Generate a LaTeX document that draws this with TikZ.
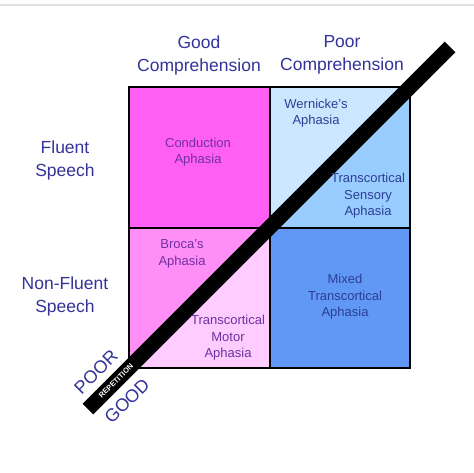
\documentclass[tikz,border=0pt]{standalone}
\usepackage{fontspec}
\setmainfont{Liberation Sans}
\begin{document}
\begin{tikzpicture}[x=1pt,y=-1pt,
  hdr/.style={text=navyT, font=\fontsize{17.5}{23}\selectfont, align=center, inner sep=0pt},
  celltxt/.style={font=\fontsize{13}{16.5}\selectfont, align=center, inner sep=0pt},
  axis/.style={text=navyT, font=\fontsize{18}{20}\selectfont, rotate=45, inner sep=0pt},
  gridline/.style={draw=black, line width=2pt}]
\definecolor{navyT}{HTML}{333399}
\definecolor{purpT}{HTML}{7030A0}
\definecolor{blueT}{HTML}{2B3F95}
\definecolor{cond}{HTML}{FF5FF5}
\definecolor{broca}{HTML}{FF8FF7}
\definecolor{motor}{HTML}{FFCCFF}
\definecolor{wern}{HTML}{CCE6FF}
\definecolor{sens}{HTML}{99CCFF}
\definecolor{mixed}{HTML}{6197F5}
\useasboundingbox (0,0) rectangle (474,473);
\fill[white] (0,0) rectangle (474,473);
\draw[color=black!12, line width=1.5pt] (0,5) -- (474,5);
% cell fills
\coordinate (TL) at (129,87);
\coordinate (TM) at (270,87);
\coordinate (TR) at (410,87);
\coordinate (ML) at (129,228);
\coordinate (MM) at (270,228);
\coordinate (MR) at (410,228);
\coordinate (BL) at (129,368);
\coordinate (BM) at (270,368);
\coordinate (BR) at (410,368);
\fill[cond] (TL) rectangle (MM);
\fill[broca] (ML) -- (MM) -- (BL) -- cycle;
\fill[motor] (MM) -- (BM) -- (BL) -- cycle;
\fill[wern] (TM) -- (TR) -- (MM) -- cycle;
\fill[sens] (TR) -- (MR) -- (MM) -- cycle;
\fill[mixed] (MM) rectangle (BR);
% grid
\draw[gridline] (TL) rectangle (BR);
\draw[gridline] (TM) -- (BM);
\draw[gridline] (ML) -- (MR);
% repetition bar
\coordinate (barA) at (88,409);
\coordinate (barB) at (450,47);
\draw[line width=15pt, black] (barA) -- (barB);
\node[text=white, font=\bfseries\fontsize{7.5}{8}\selectfont, rotate=45, inner sep=0pt] (rep) at (116,381) {REPETITION};
\node[axis] (poor) at (96,372) {POOR};
\node[axis] (good) at (127,401) {GOOD};
% headers
\node[hdr] (gc) at (199,55) {Good\\Comprehension};
\node[hdr] (pc) at (342,55) {Poor\\Comprehension};
\node[hdr] (fs) at (65,160) {Fluent\\Speech};
\node[hdr] (nfs) at (65,296) {Non-Fluent\\Speech};
% cell texts
\node[celltxt, text=purpT] (conduction) at (198,152) {Conduction\\Aphasia};
\node[celltxt, text=purpT] (broca) at (182,254) {Broca's\\Aphasia};
\node[celltxt, text=purpT] (motor) at (228,338) {Transcortical\\Motor\\Aphasia};
\node[celltxt, text=blueT] (wernicke) at (316,113) {Wernicke's\\Aphasia};
\node[celltxt, text=blueT] (sensory) at (368,196) {Transcortical\\Sensory\\Aphasia};
\node[celltxt, text=blueT] (mixedt) at (345,297) {Mixed\\Transcortical\\Aphasia};
\end{tikzpicture}
\end{document}
